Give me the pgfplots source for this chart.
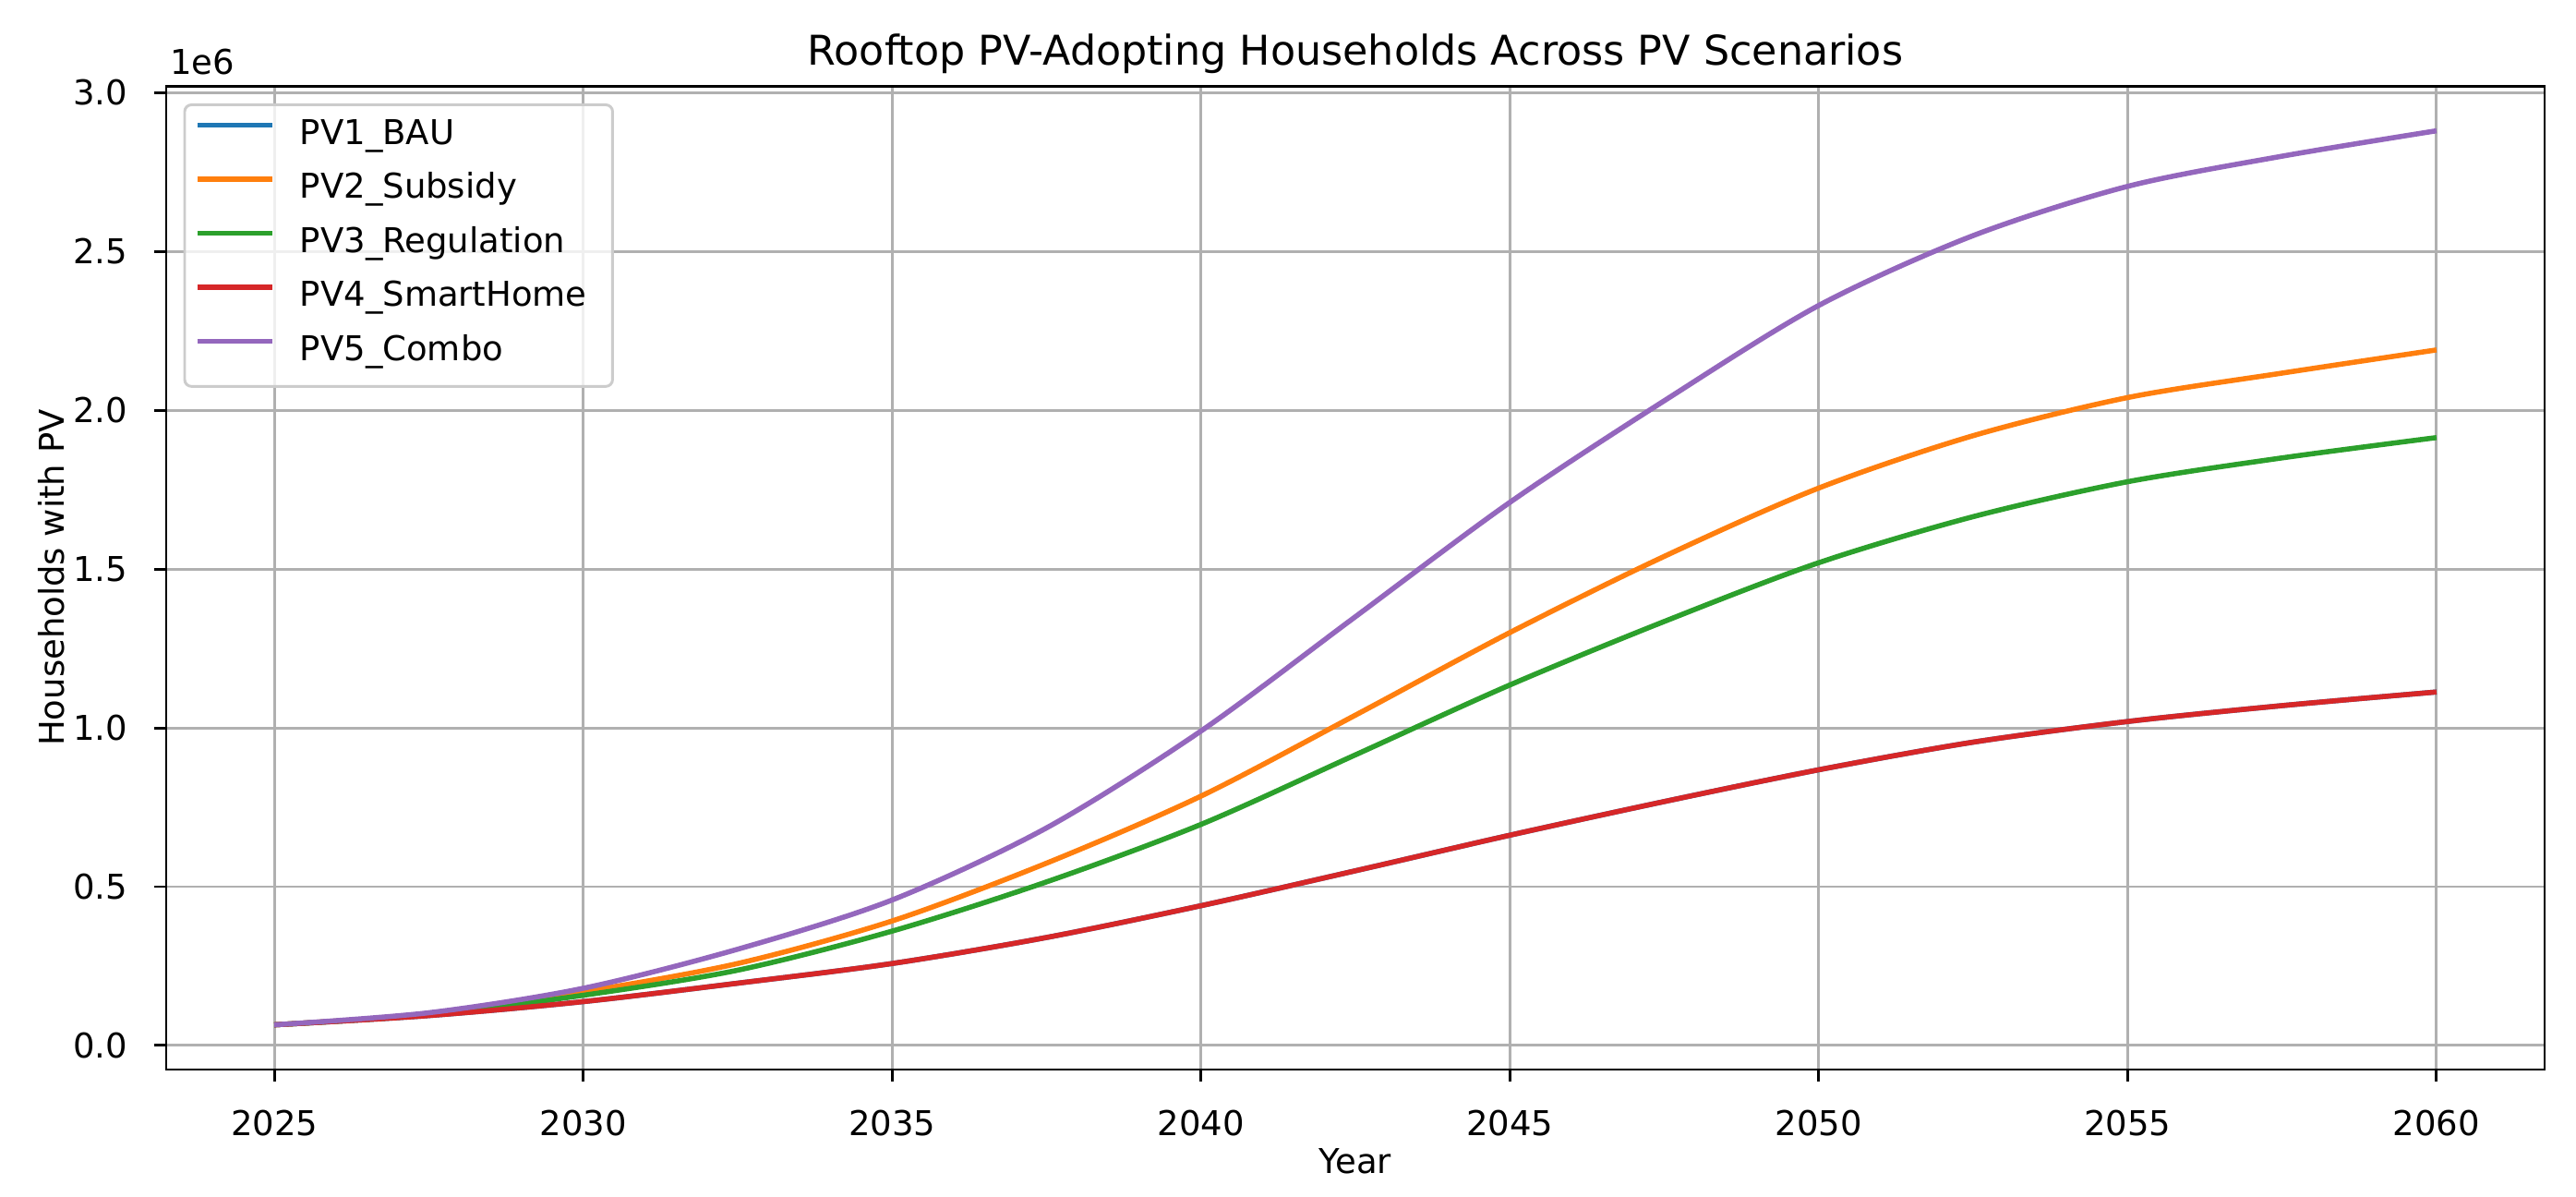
\documentclass[border=0pt]{standalone}
\usepackage{fontspec}
\setmainfont{DejaVu Sans}
\usepackage{pgfplots}
\pgfplotsset{compat=1.18}
\usepackage{pgfplotstable}
\definecolor{tabblue}{HTML}{1F77B4}
\definecolor{taborange}{HTML}{FF7F0E}
\definecolor{tabgreen}{HTML}{2CA02C}
\definecolor{tabred}{HTML}{D62728}
\definecolor{tabpurple}{HTML}{9467BD}
\definecolor{gridgray}{HTML}{B0B0B0}
\definecolor{legframe}{HTML}{CCCCCC}

% values in millions of households
\pgfplotstableread{
year   bau    sub    reg    smart  combo
2025   0.065  0.065  0.065  0.065  0.065
2027.5 0.094  0.099  0.097  0.094  0.103
2030   0.138  0.169  0.158  0.138  0.180
2032.5 0.196  0.258  0.237  0.196  0.303
2035   0.258  0.392  0.360  0.258  0.458
2037.5 0.340  0.574  0.515  0.340  0.685
2040   0.440  0.785  0.696  0.440  0.990
2042.5 0.550  1.040  0.915  0.550  1.350
2045   0.662  1.300  1.135  0.662  1.710
2047.5 0.768  1.540  1.335  0.768  2.030
2050   0.868  1.755  1.520  0.868  2.330
2052.5 0.955  1.920  1.665  0.955  2.550
2055   1.020  2.040  1.775  1.020  2.705
2057.5 1.070  2.117  1.850  1.070  2.800
2060   1.113  2.190  1.914  1.113  2.880
}\pvdata

\begin{document}
\begin{tikzpicture}
\path[use as bounding box] (0,0) rectangle (754.05pt,350pt);
\begin{axis}[
  at={(48.65pt,37.03pt)}, anchor=south west,
  scale only axis, width=696.2pt, height=287.8pt,
  xmin=2023.25, xmax=2061.75, ymin=-0.0758, ymax=3.021,
  xtick={2025,2030,2035,2040,2045,2050,2055,2060},
  ytick={0,0.5,1,1.5,2,2.5,3},
  xtick pos=bottom, ytick pos=left,
  tick align=outside, major tick length=3.5pt,
  every tick/.style={black, line width=0.8pt},
  axis line style={black, line width=0.8pt},
  grid=major,
  major grid style={gridgray, line width=0.8pt},
  scaled y ticks=false,
  clip mode=individual,
  tick label style={font=\fontsize{10}{12}\selectfont, inner sep=0pt, /pgf/number format/assume math mode=true},
  xticklabel style={anchor=north, yshift=-8.1pt, /pgf/number format/1000 sep={}},
  yticklabel style={anchor=east, xshift=-7.6pt, /pgf/number format/fixed, /pgf/number format/fixed zerofill, /pgf/number format/precision=1},
  every axis title/.style={at={(axis description cs:0.5,1)}, yshift=6.2pt, anchor=base, inner sep=0pt, font=\fontsize{12}{14}\selectfont},
  every axis x label/.style={at={(axis description cs:0.5,0)}, yshift=-30.3pt, anchor=base, inner sep=0pt},
  every axis y label/.style={at={(axis description cs:0,0.5)}, xshift=-29.95pt, rotate=90, anchor=base, inner sep=0pt},
  title={Rooftop PV-Adopting Households Across PV Scenarios},
  xlabel={Year},
  ylabel={Households with PV},
  legend cell align={left},
  legend image code/.code={\draw[#1, line width=1.5pt] (0pt,3.6pt) -- (22pt,3.6pt); \path[draw=none, fill=none] (0pt,3.6pt) rectangle (30pt,3.6pt);},
  legend style={at={(axis description cs:0,1)}, anchor=north west, xshift=5pt, yshift=-5.1pt,
    draw=legframe, line width=0.8pt, fill=white, fill opacity=0.8, draw opacity=1, text opacity=1,
    rounded corners=2pt, inner xsep=3pt, inner ysep=4pt, row sep=4.6pt,
    font=\fontsize{10}{12}\selectfont,
    nodes={inner sep=0pt, text height=7.6pt, text depth=3.6pt}},
]
\addplot[tabblue, line width=1.5pt, smooth] table[x=year, y=bau] {\pvdata};
\addlegendentry{PV1\_BAU}
\addplot[taborange, line width=1.5pt, smooth] table[x=year, y=sub] {\pvdata};
\addlegendentry{PV2\_Subsidy}
\addplot[tabgreen, line width=1.5pt, smooth] table[x=year, y=reg] {\pvdata};
\addlegendentry{PV3\_Regulation}
\addplot[tabred, line width=1.5pt, smooth] table[x=year, y=smart] {\pvdata};
\addlegendentry{PV4\_SmartHome\hspace*{4.5pt}}
\addplot[tabpurple, line width=1.5pt, smooth] table[x=year, y=combo] {\pvdata};
\addlegendentry{PV5\_Combo}
\node[anchor=base west, inner sep=0pt, font=\fontsize{10}{12}\selectfont] at (rel axis cs:0,1) [xshift=1pt, yshift=3.5pt] {1e6};
\end{axis}
\end{tikzpicture}
\end{document}
